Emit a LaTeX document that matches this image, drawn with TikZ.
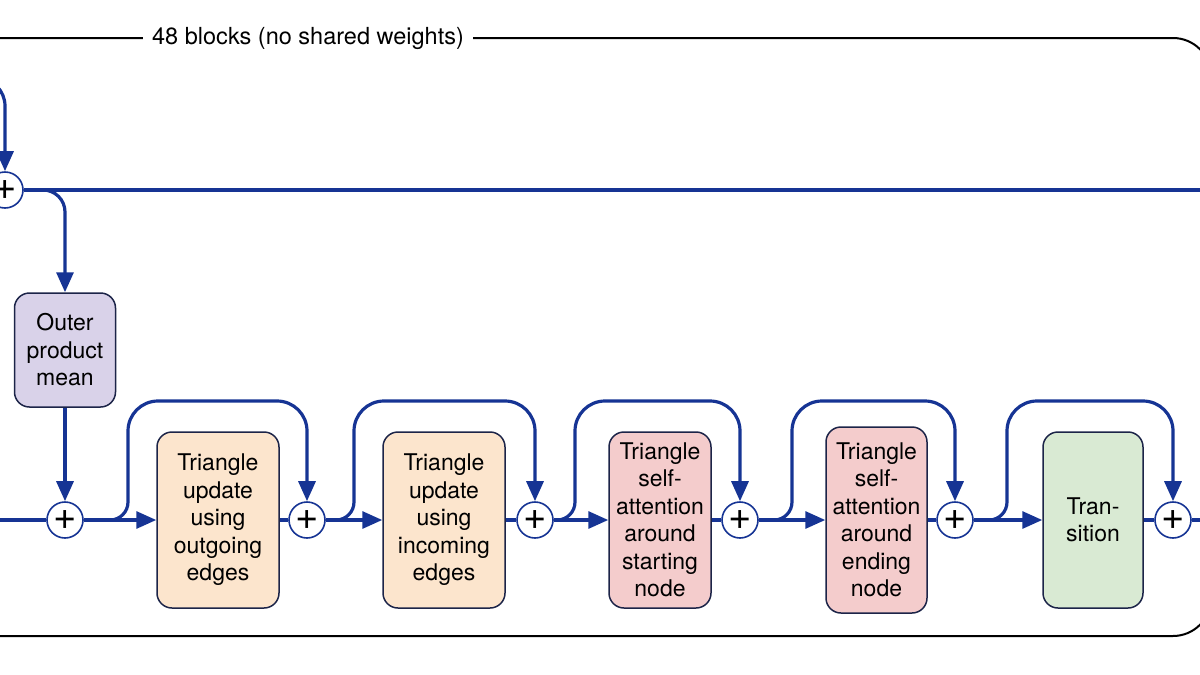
\documentclass[tikz,border=0pt]{standalone}
\usepackage{fontspec}
\setmainfont{TeX Gyre Heros}
\usetikzlibrary{arrows.meta}
\definecolor{flowblue}{RGB}{22,52,148}
\definecolor{boxborder}{RGB}{28,36,72}
\definecolor{lav}{RGB}{217,210,233}
\definecolor{peach}{RGB}{252,229,205}
\definecolor{pinkf}{RGB}{244,204,204}
\definecolor{greenf}{RGB}{217,234,211}
\begin{document}
\begin{tikzpicture}[x=1pt,y=-1pt,
  flow/.style={draw=flowblue, line width=3.2pt},
  arr/.style={flow, -{Triangle[length=20pt,width=17pt]}},
  blk/.style={draw=boxborder, line width=1.5pt, rounded corners=15pt, align=center,
    font=\fontsize{23}{27.5}\selectfont, inner sep=0pt},
  plus/.style={circle, draw=flowblue, line width=1.6pt, fill=white, minimum size=36pt,
    inner sep=0pt, font=\fontsize{40}{40}\selectfont},
  titlestyle/.style={fill=white, inner xsep=9pt, inner ysep=2pt, font=\fontsize{23.5}{27.5}\selectfont}
]
\useasboundingbox (0,0) rectangle (1200,675);
\clip (0,0) rectangle (1200,675);

% outer frame
\draw[line width=2pt, rounded corners=38pt] (-60,38) rectangle (1211,636);
\node[titlestyle] (title) at (308,38) {48 blocks (no shared weights)};

% blocks
\node[blk, fill=lav, minimum width=101pt, minimum height=114pt] (opm) at (65,350) {Outer\\product\\mean};
\node[blk, fill=peach, minimum width=122pt, minimum height=176pt] (b1) at (218,520) {Triangle\\update\\using\\outgoing\\edges};
\node[blk, fill=peach, minimum width=122pt, minimum height=176pt] (b2) at (444,520) {Triangle\\update\\using\\incoming\\edges};
\node[blk, fill=pinkf, minimum width=102pt, minimum height=176pt] (b3) at (660,520) {Triangle\\self-\\attention\\around\\starting\\node};
\node[blk, fill=pinkf, minimum width=101pt, minimum height=186pt] (b4) at (876.5,520) {Triangle\\self-\\attention\\around\\ending\\node};
\node[blk, fill=greenf, minimum width=100pt, minimum height=176pt] (b5) at (1093,520) {Tran-\\sition};

% sum nodes
\node[plus] (c0) at (5,190) {+};
\node[plus] (c1) at (65,520) {+};
\node[plus] (c2) at (307,520) {+};
\node[plus] (c3) at (535,520) {+};
\node[plus] (c4) at (740,520) {+};
\node[plus] (c5) at (955,520) {+};
\node[plus] (c6) at (1173,520) {+};

% free ends
\coordinate (inTop) at (-40,78);
\coordinate (outTop) at (1240,190);
\coordinate (inMain) at (-20,520);
\coordinate (outMain) at (1240,520);

% top row
\draw[arr, rounded corners=28pt] (inTop) -| (c0.north);
\draw[flow] (c0.east) -- (outTop);
\draw[arr, rounded corners=22pt] (c0.east) -| (opm.north);
\draw[arr] (opm.south) -- (c1.north);

% main row
\draw[flow] (inMain) -- (c1.west);
\draw[arr] (c1.east) -- (b1.west);
\draw[flow] (b1.east) -- (c2.west);
\draw[arr] (c2.east) -- (b2.west);
\draw[flow] (b2.east) -- (c3.west);
\draw[arr] (c3.east) -- (b3.west);
\draw[flow] (b3.east) -- (c4.west);
\draw[arr] (c4.east) -- (b4.west);
\draw[flow] (b4.east) -- (c5.west);
\draw[arr] (c5.east) -- (b5.west);
\draw[flow] (b5.east) -- (c6.west);
\draw[flow] (c6.east) -- (outMain);

% skip connections
\draw[arr] (c1.east) [rounded corners=18pt] -- (128,520) [rounded corners=30pt] -- (128,401) -- (c2.north |- 0,401) -- (c2.north);
\draw[arr] (c2.east) [rounded corners=18pt] -- (354,520) [rounded corners=30pt] -- (354,401) -- (c3.north |- 0,401) -- (c3.north);
\draw[arr] (c3.east) [rounded corners=18pt] -- (575,520) [rounded corners=30pt] -- (575,401) -- (c4.north |- 0,401) -- (c4.north);
\draw[arr] (c4.east) [rounded corners=18pt] -- (792,520) [rounded corners=30pt] -- (792,401) -- (c5.north |- 0,401) -- (c5.north);
\draw[arr] (c5.east) [rounded corners=18pt] -- (1007,520) [rounded corners=30pt] -- (1007,401) -- (c6.north |- 0,401) -- (c6.north);
\end{tikzpicture}
\end{document}
